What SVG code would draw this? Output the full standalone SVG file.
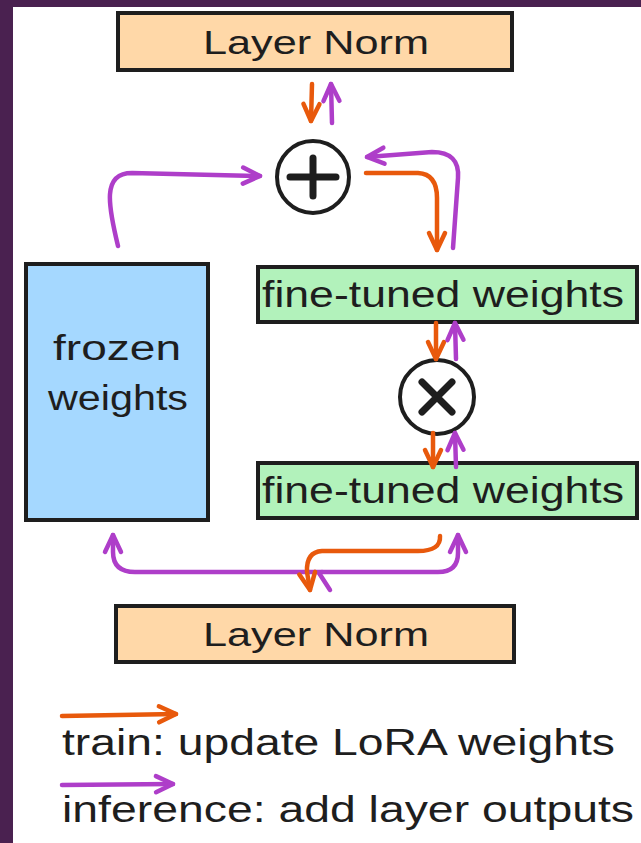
<svg xmlns="http://www.w3.org/2000/svg" width="641" height="843" viewBox="0 0 641 843">
<style>
.box{stroke:#1e1e1e;stroke-width:4}
.ln{fill:#ffd8a8}
.ft{fill:#b2f2bb}
.fz{fill:#a5d8ff}
.t{font-family:"Liberation Sans","DejaVu Sans",sans-serif;fill:#1e1e1e;text-anchor:middle;dominant-baseline:central}
.lg{font-family:"Liberation Sans","DejaVu Sans",sans-serif;fill:#1e1e1e;font-size:36px}
.o{fill:none;stroke:#e8590c;stroke-width:4.5;stroke-linecap:round;stroke-linejoin:round;marker-end:url(#ao)}
.p{fill:none;stroke:#ae3ec9;stroke-width:4.5;stroke-linecap:round;stroke-linejoin:round;marker-end:url(#ap)}
.pn{fill:none;stroke:#ae3ec9;stroke-width:4.5;stroke-linecap:round;stroke-linejoin:round}
.op{fill:#fff;stroke:#1e1e1e;stroke-width:4}
.sym{fill:none;stroke:#1e1e1e;stroke-width:7;stroke-linecap:round}
</style>
<defs>
<marker id="ao" markerUnits="userSpaceOnUse" markerWidth="40" markerHeight="40" viewBox="-25 -20 40 40" refX="0" refY="0" orient="auto">
<path d="M-17,-8 L0,0 L-17,8" fill="none" stroke="#e8590c" stroke-width="4.5" stroke-linecap="round" stroke-linejoin="round"/>
</marker>
<marker id="ap" markerUnits="userSpaceOnUse" markerWidth="40" markerHeight="40" viewBox="-25 -20 40 40" refX="0" refY="0" orient="auto">
<path d="M-17,-8 L0,0 L-17,8" fill="none" stroke="#ae3ec9" stroke-width="4.5" stroke-linecap="round" stroke-linejoin="round"/>
</marker>
</defs>
<rect x="0" y="0" width="641" height="843" fill="#ffffff"/>
<rect x="0" y="0" width="641" height="7" fill="#4a2150"/>
<rect x="0" y="0" width="13" height="843" fill="#4a2150"/>

<g id="layernorm-top">
<rect class="box ln" x="118" y="13" width="394" height="57"/>
<text class="t" x="316" y="42" font-size="34" textLength="226" lengthAdjust="spacingAndGlyphs">Layer Norm</text>
</g>
<g id="add">
<circle class="op" cx="313" cy="177" r="36"/>
<path class="sym" d="M290,177 H336 M313,158 V196"/>
</g>
<g id="frozen">
<rect class="box fz" x="26" y="264" width="182" height="256"/>
<text class="t" x="117" y="347" font-size="35" textLength="128" lengthAdjust="spacingAndGlyphs">frozen</text>
<text class="t" x="118" y="397" font-size="35" textLength="140" lengthAdjust="spacingAndGlyphs">weights</text>
</g>
<g id="finetuned-top">
<rect class="box ft" x="258" y="267" width="379" height="55"/>
<text class="t" x="443" y="294" font-size="36" textLength="362" lengthAdjust="spacingAndGlyphs">fine-tuned weights</text>
</g>
<g id="multiply">
<circle class="op" cx="437" cy="397" r="37"/>
<path class="sym" d="M422,382 L452,412 M452,382 L422,412"/>
</g>
<g id="finetuned-bottom">
<rect class="box ft" x="258" y="463" width="379" height="55"/>
<text class="t" x="443" y="490" font-size="36" textLength="362" lengthAdjust="spacingAndGlyphs">fine-tuned weights</text>
</g>
<g id="layernorm-bottom">
<rect class="box ln" x="116" y="606" width="398" height="56"/>
<text class="t" x="316" y="634" font-size="34" textLength="226" lengthAdjust="spacingAndGlyphs">Layer Norm</text>
</g>

<g id="connectors">
<path class="o" d="M312,84 L311,121"/>
<path class="p" d="M332,123 L331,84"/>
<path class="p" d="M118,246 C108,205 102,173 132,173 L260,176"/>
<path class="p" d="M453,248 L458,178 Q460,152 432,152 L367,157"/>
<path class="o" d="M366,173 L418,173 Q437,174 437,198 L437,250"/>
<path class="o" d="M436,323 L436,359"/>
<path class="p" d="M456,359 L455,323"/>
<path class="o" d="M433,433 L433,467"/>
<path class="p" d="M456,467 L455,433"/>
<path class="p" d="M322,572 L135,572 Q113,572 113,552 L113,535"/>
<path class="p" d="M322,572 L438,572 Q458,572 458,553 L458,535"/>
<path class="pn" d="M330,590 L319,573"/>
<path class="o" d="M440,536 Q441,551 418,551 L322,551 Q306,552 307,572 L310,590"/>
</g>

<g id="legend">
<path class="o" d="M62,716 L176,714"/>
<text class="lg" x="62" y="755" textLength="553" lengthAdjust="spacingAndGlyphs">train: update LoRA weights</text>
<path class="p" d="M62,785 L173,784"/>
<text class="lg" x="62" y="822" textLength="572" lengthAdjust="spacingAndGlyphs">inference: add layer outputs</text>
</g>
</svg>
